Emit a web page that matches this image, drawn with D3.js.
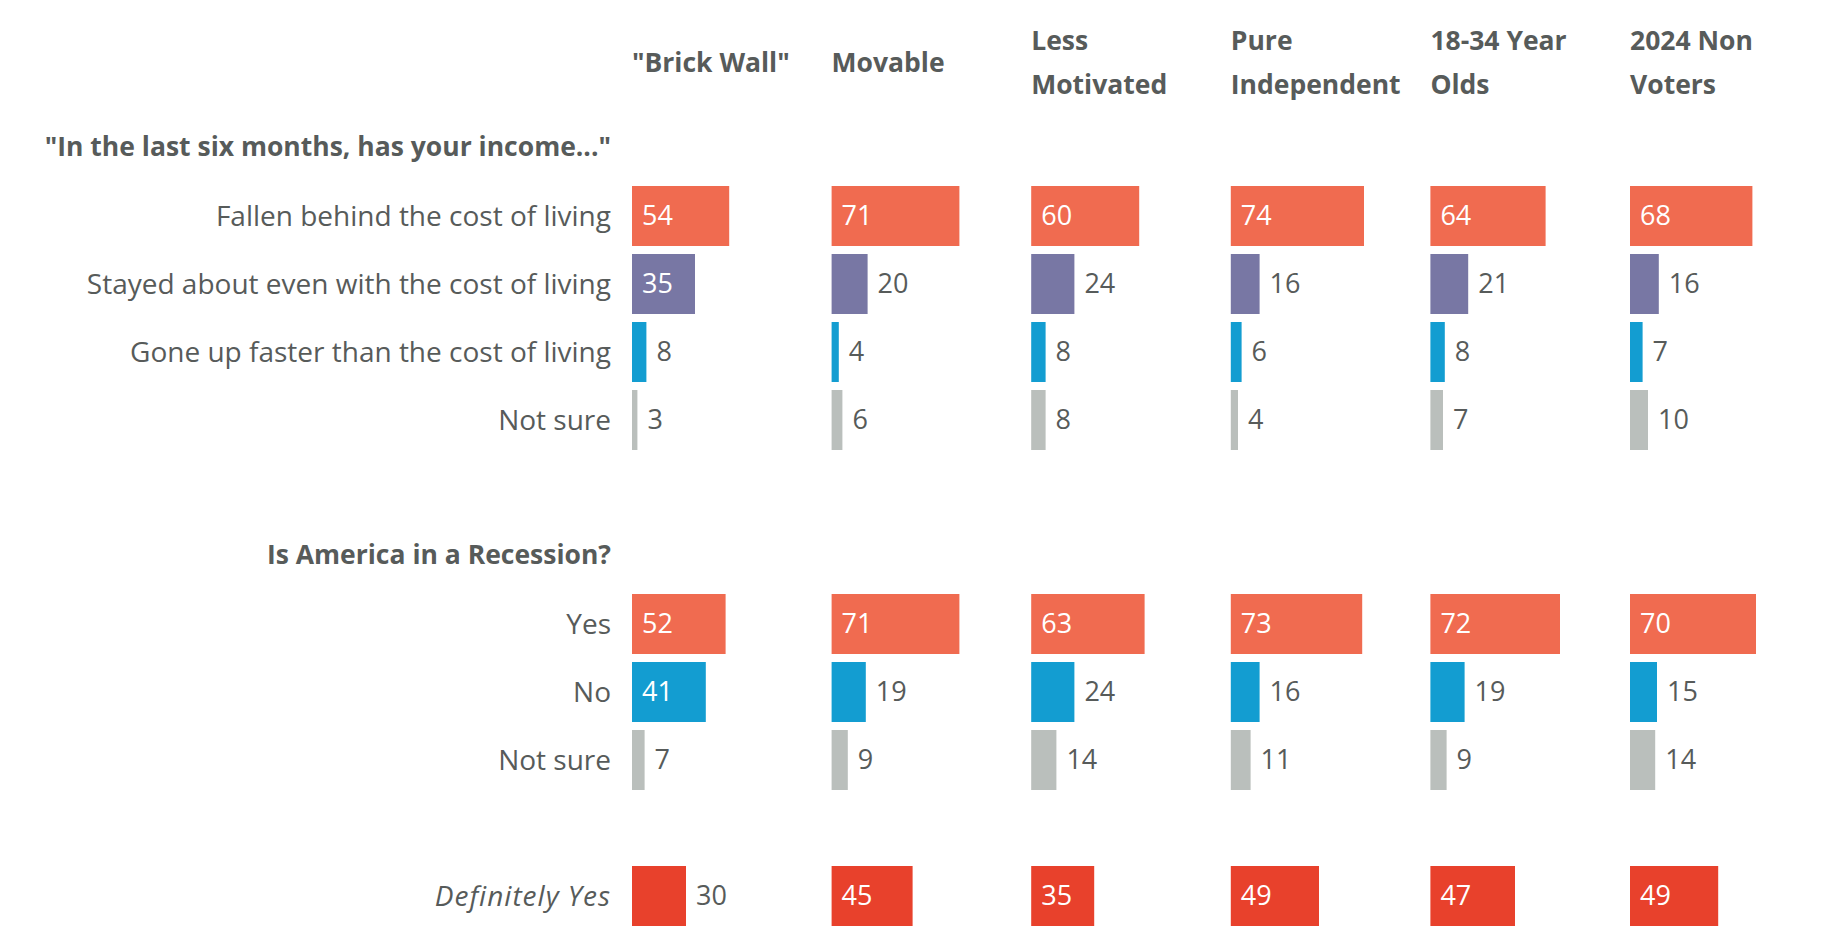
<!DOCTYPE html>
<html>
<head>
<meta charset="utf-8">
<script src="https://cdn.jsdelivr.net/npm/d3@7"></script>
<style>
    body { margin: 0; background: #fff; }
    text { font-family: "Open Sans", Lato, sans-serif; fill: #575b5a; }
    .hdr, .title { font-weight: bold; }
</style>
</head>
<body>
<svg id="chart" width="1832" height="946"></svg>
<script>
// column groups (header lines)
var groups = ['"Brick Wall"', "Movable", "Less Motivated", "Pure Independent", "18-34 Year Olds", "2024 Non Voters"];
var groupLines = [['"Brick Wall"'], ["Movable"], ["Less", "Motivated"], ["Pure", "Independent"], ["18-34 Year", "Olds"], ["2024 Non", "Voters"]];

// question 1
var incomeTitle = '"In the last six months, has your income..."';
var incomeLabels = ["Fallen behind the cost of living", "Stayed about even with the cost of living", "Gone up faster than the cost of living", "Not sure"];
var fallenBehind = [54, 71, 60, 74, 64, 68];
var stayedEven = [35, 20, 24, 16, 21, 16];
var goneUp = [8, 4, 8, 6, 8, 7];
var incomeNotSure = [3, 6, 8, 4, 7, 10];

// question 2
var recessionTitle = "Is America in a Recession?";
var recessionLabels = ["Yes", "No", "Not sure"];
var recessionYes = [52, 71, 63, 73, 72, 70];
var recessionNo = [41, 19, 24, 16, 19, 15];
var recessionNotSure = [7, 9, 14, 11, 9, 14];

var definitelyLabel = "Definitely Yes";
var definitelyYes = [30, 45, 35, 49, 47, 49];

var svg = d3.select("#chart");

var colors = {
    red: "#f06b50",
    purple: "#7877a4",
    blue: "#139dd1",
    grey: "#babfbc",
    deep: "#e8412c"
};

// row slots, top to bottom
var rows = [
    { key: "t1", title: incomeTitle },
    { key: "r1", label: incomeLabels[0], values: fallenBehind, color: colors.red },
    { key: "r2", label: incomeLabels[1], values: stayedEven, color: colors.purple },
    { key: "r3", label: incomeLabels[2], values: goneUp, color: colors.blue },
    { key: "r4", label: incomeLabels[3], values: incomeNotSure, color: colors.grey },
    { key: "gap1" },
    { key: "t2", title: recessionTitle },
    { key: "r5", label: recessionLabels[0], values: recessionYes, color: colors.red },
    { key: "r6", label: recessionLabels[1], values: recessionNo, color: colors.blue },
    { key: "r7", label: recessionLabels[2], values: recessionNotSure, color: colors.grey },
    { key: "gap2" },
    { key: "r8", label: definitelyLabel, values: definitelyYes, color: colors.deep, italic: true }
];

var y = d3.scaleBand()
    .domain(rows.map(function(d) { return d.key; }))
    .range([118, 926])
    .paddingInner(8 / 68)
    .paddingOuter(0);

var col = d3.scaleBand()
    .domain(groups)
    .range([632, 632 + 6 * 199.6]);

var w = d3.scaleLinear().domain([0, 100]).range([0, 180]);

var labelX = 611;

// column headers
svg.selectAll(".hdr")
    .data(groups)
    .enter().append("text")
    .attr("class", "hdr")
    .attr("x", function(d) { return col(d); })
    .attr("font-size", 26.5)
    .each(function(d, i) {
        var lines = groupLines[i];
        var base = lines.length === 1 ? [72] : [50, 94];
        d3.select(this).selectAll("tspan")
            .data(lines)
            .enter().append("tspan")
            .attr("x", col(d))
            .attr("y", function(l, j) { return base[j]; })
            .text(function(l) { return l; });
    });

// section titles
svg.selectAll(".title")
    .data(rows.filter(function(d) { return d.title; }))
    .enter().append("text")
    .attr("class", "title")
    .attr("x", labelX)
    .attr("y", function(d) { return y(d.key) + y.bandwidth() / 2 + 8; })
    .attr("text-anchor", "end")
    .attr("font-size", 26.5)
    .text(function(d) { return d.title; });

var barRows = rows.filter(function(d) { return d.values; });

// row labels
svg.selectAll(".rowlabel")
    .data(barRows)
    .enter().append("text")
    .attr("class", "rowlabel")
    .attr("x", labelX)
    .attr("y", function(d) { return y(d.key) + y.bandwidth() / 2; })
    .attr("dy", "0.35em")
    .attr("text-anchor", "end")
    .attr("font-size", 28)
    .attr("letter-spacing", function(d) { return d.italic ? 1 : null; })
    .attr("font-style", function(d) { return d.italic ? "italic" : null; })
    .text(function(d) { return d.label; });

var cells = [];
barRows.forEach(function(r) {
    r.values.forEach(function(v, i) {
        cells.push({ key: r.key, group: groups[i], value: v, color: r.color });
    });
});

svg.selectAll(".bar")
    .data(cells)
    .enter().append("rect")
    .attr("class", "bar")
    .attr("x", function(d) { return col(d.group); })
    .attr("y", function(d) { return y(d.key); })
    .attr("width", function(d) { return w(d.value); })
    .attr("height", y.bandwidth())
    .attr("fill", function(d) { return d.color; });

svg.selectAll(".val")
    .data(cells)
    .enter().append("text")
    .attr("class", "val")
    .attr("x", function(d) {
        var inside = w(d.value) > 58;
        return col(d.group) + (inside ? 10 : w(d.value) + 10);
    })
    .attr("y", function(d) { return y(d.key) + y.bandwidth() / 2; })
    .attr("dy", "0.35em")
    .attr("font-size", 27)
    .style("fill", function(d) { return w(d.value) > 58 ? "#fff" : null; })
    .text(function(d) { return d.value; });
</script>
</body>
</html>
